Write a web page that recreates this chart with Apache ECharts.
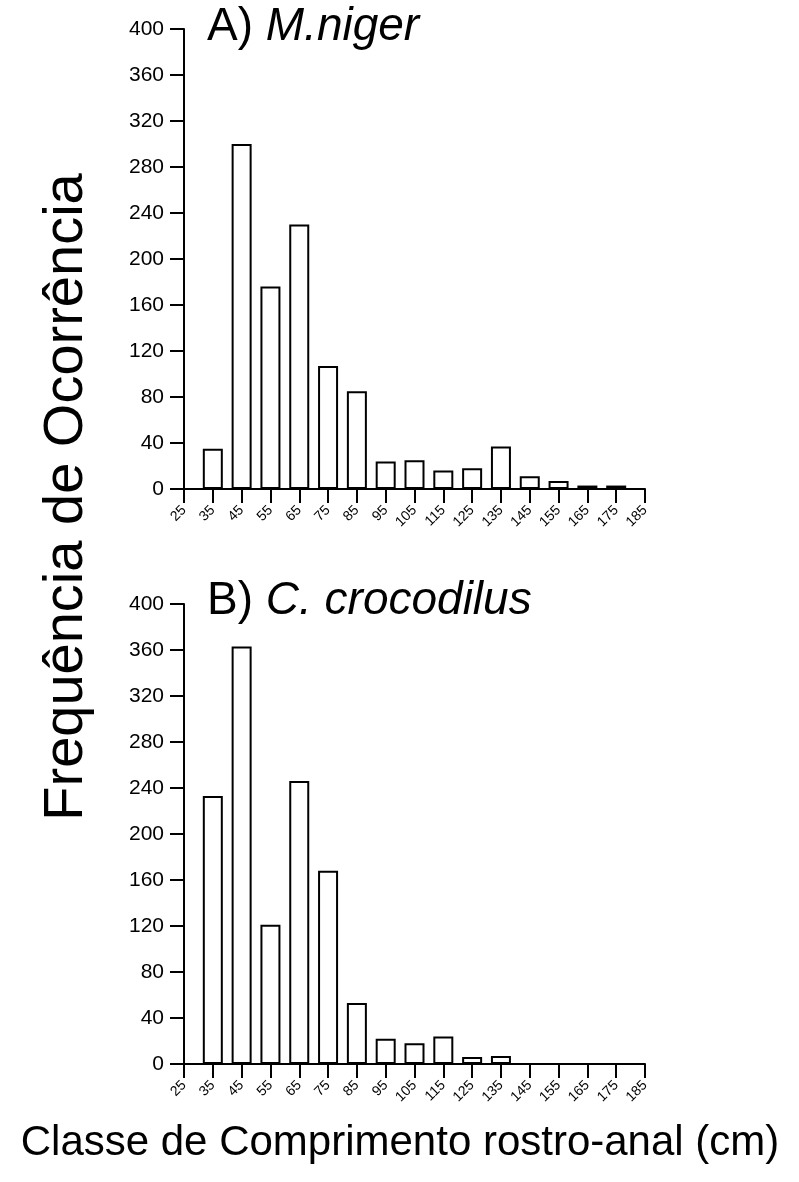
<!DOCTYPE html>
<html>
<head>
<meta charset="utf-8">
<script src="https://cdn.jsdelivr.net/npm/echarts@6/dist/echarts.min.js"></script>
<style>
  html, body { margin: 0; padding: 0; background: #fff; }
  #main { width: 799px; height: 1182px; }
</style>
</head>
<body>
<div id="main"></div>
<script>
// class midpoints (cm)
var classes = [35, 45, 55, 65, 75, 85, 95, 105, 115, 125, 135, 145, 155, 165, 175];
// A) M.niger
var nigerCounts = [35, 300, 176, 230, 107, 85, 24, 25, 16, 18, 37, 11, 7, 3, 3];
// B) C. crocodilus
var crocCounts = [233, 363, 121, 246, 168, 53, 22, 18, 24, 6, 7, 0, 0, 0, 0];

var font = 'Liberation Sans, Arial, sans-serif';

function pairs(vals) {
  return classes.map(function (c, i) { return [c, vals[i]]; });
}

function xAxis(idx) {
  return {
    type: 'value', gridIndex: idx,
    min: 25, max: 185, interval: 10,
    splitLine: { show: false },
    axisLine: { lineStyle: { color: '#000', width: 2 } },
    axisTick: { length: 14, lineStyle: { color: '#000', width: 2 } },
    axisLabel: {
      rotate: 45, margin: 19, fontSize: 14, color: '#000', fontFamily: font,
      showMinLabel: true, showMaxLabel: true
    }
  };
}

function yAxis(idx) {
  return {
    type: 'value', gridIndex: idx,
    min: 0, max: 400, interval: 40,
    splitLine: { show: false },
    axisLine: { show: true, lineStyle: { color: '#000', width: 2 } },
    axisTick: { show: true, length: 14, lineStyle: { color: '#000', width: 2 } },
    axisLabel: { fontSize: 21, color: '#000', margin: 20, fontFamily: font }
  };
}

function barSeries(idx, vals) {
  return {
    type: 'bar', xAxisIndex: idx, yAxisIndex: idx,
    barWidth: 20,
    data: pairs(vals),
    itemStyle: { color: '#fff', borderColor: '#000', borderWidth: 2 },
    silent: true
  };
}

var chart = echarts.init(document.getElementById('main'));
chart.setOption({
  animation: false,
  backgroundColor: '#fff',
  grid: [
    { left: 184, top: 29, width: 461, height: 460 },
    { left: 184, top: 604, width: 461, height: 460 }
  ],
  xAxis: [xAxis(0), xAxis(1)],
  yAxis: [yAxis(0), yAxis(1)],
  series: [barSeries(0, nigerCounts), barSeries(1, crocCounts)],
  graphic: [
    {
      type: 'text', left: 207, top: 4,
      style: {
        text: 'A) {i|M.niger}',
        font: '46px ' + font, fill: '#000',
        rich: { i: { fontStyle: 'italic', fontSize: 46, fontFamily: font } }
      }
    },
    {
      type: 'text', left: 207, top: 578,
      style: {
        text: 'B) {i|C. crocodilus}',
        font: '46px ' + font, fill: '#000',
        rich: { i: { fontStyle: 'italic', fontSize: 46, fontFamily: font } }
      }
    },
    {
      type: 'text', x: 67, y: 497, rotation: Math.PI / 2,
      style: {
        text: 'Frequência de Ocorrência',
        font: '56px ' + font, fill: '#000',
        align: 'center', verticalAlign: 'middle'
      }
    },
    {
      type: 'text', x: 400, y: 1143,
      style: {
        text: 'Classe de Comprimento rostro-anal (cm)',
        font: '42px ' + font, fill: '#000',
        align: 'center', verticalAlign: 'middle'
      }
    }
  ]
});
</script>
</body>
</html>
